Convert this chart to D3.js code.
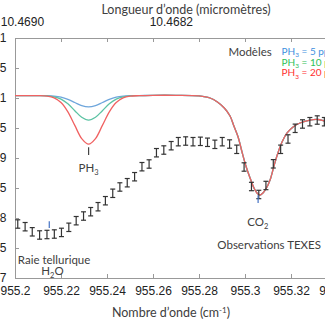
<!DOCTYPE html>
<html>
<head>
<meta charset="utf-8">
<script src="https://cdn.jsdelivr.net/npm/d3@7"></script>
<style>
  body { margin: 0; background: #fff; }
  svg { display: block; }
  .axis path, .axis line { stroke: #999; }
  .axis text { fill: #222; font-family: "Liberation Sans", Arial, sans-serif; font-size: 12px; }
  .lbl { fill: #404040; font-family: Lato, "Open Sans", sans-serif; }
</style>
</head>
<body>
<div class="chart"></div>
<script>
// Data
const wnTicks = [955.2, 955.22, 955.24, 955.26, 955.28, 955.3, 955.32, 955.34];
const yTicks = [0.7, 0.75, 0.8, 0.85, 0.9, 0.95, 1, 1.05, 1.1];
const lambdaTicks = [10.4690, 10.4682];

// TEXES observations
const obsWn = [955.2012, 955.2044, 955.2075, 955.2107, 955.2139, 955.2171, 955.2202, 955.2234,
  955.2266, 955.2298, 955.2329, 955.2361, 955.2393, 955.2425, 955.2456, 955.2488, 955.2520,
  955.2552, 955.2583, 955.2615, 955.2647, 955.2679, 955.2710, 955.2742, 955.2774, 955.2806,
  955.2837, 955.2869, 955.2901, 955.2933, 955.2964, 955.2996, 955.3028, 955.3060, 955.3091,
  955.3123, 955.3155, 955.3187, 955.3218, 955.3250, 955.3282, 955.3314, 955.3345];
const obsVal = [0.790, 0.7855, 0.777, 0.7717, 0.7725, 0.7733, 0.776, 0.7845,
  0.7955, 0.8033, 0.8105, 0.8188, 0.8288, 0.8412, 0.8517, 0.8588, 0.8688,
  0.8855, 0.890, 0.9088, 0.9133, 0.9205, 0.9272, 0.9283, 0.9272, 0.9278,
  0.9262, 0.9228, 0.9272, 0.9233, 0.9145, 0.885, 0.8525, 0.8392, 0.8542,
  0.8903, 0.9145, 0.9317, 0.9495, 0.9567, 0.9605, 0.9633, 0.9605];
const obsErr = 0.007;

// Models
const modelWn = [955.200, 955.210, 955.214, 955.217, 955.220, 955.223, 955.226, 955.229, 955.232,
  955.235, 955.238, 955.241, 955.244, 955.247, 955.250, 955.254, 955.260, 955.270, 955.280,
  955.2848, 955.288, 955.291, 955.2935, 955.295, 955.297, 955.2987, 955.3004, 955.3022,
  955.3039, 955.3052, 955.3065, 955.3078, 955.3091, 955.3109, 955.3126, 955.3143, 955.3161,
  955.3183, 955.3209, 955.3239, 955.3283, 955.3317, 955.3348, 955.340];
const coTail = [1.0045, 1.0045, 1.0035,
  1.000, 0.9933, 0.9833, 0.970, 0.955, 0.935, 0.910, 0.8867, 0.8667,
  0.850, 0.8417, 0.8383, 0.8417, 0.8483, 0.8633, 0.8867, 0.9083, 0.9267,
  0.9417, 0.9517, 0.9583, 0.9633, 0.9642, 0.9617, 0.958];
const ph3_5 = [1.004, 1.004, 1.0038, 1.0031, 1.0013, 0.9977, 0.9925, 0.9874, 0.9853,
  0.9874, 0.9925, 0.9977, 1.0013, 1.0031, 1.0038, 1.004].concat(coTail);
const ph3_10 = [1.004, 1.0039, 1.0035, 1.002, 0.9981, 0.9903, 0.9789, 0.9679, 0.9632,
  0.9679, 0.9789, 0.9903, 0.9981, 1.002, 1.0035, 1.0039].concat(coTail);
const ph3_20 = [1.004, 1.0039, 1.003, 1.0001, 0.9924, 0.9769, 0.9543, 0.9324, 0.9232,
  0.9324, 0.9543, 0.9769, 0.9924, 1.0001, 1.003, 1.0039].concat(coTail);

const modelNames = ['5', '10', '20'];
const modelLineColors = ['#6ea6dc', '#5cc3a4', '#f06262'];
const modelTextColors = ['#3d8fe0', '#2fbf58', '#ff3030'];

function ready(){
    const margin = {top: 38, right: -12, bottom: 47, left: 15};
    const width = 325 - margin.left - margin.right;
    const height = 325 - margin.top - margin.bottom;

    const xScale = d3.scaleLinear().domain([955.2, 955.34]).range([0, width]);
    const yScale = d3.scaleLinear().domain([0.7, 1.1]).range([height, 0]);
    // wavelength axis on top, as placed on the original figure
    const lScale = d3.scaleLinear().domain([10.46904, 10.46731]).range([0, width]);

    const svg = d3.select('.chart')
        .append('svg')
        .attr('width', 325)
        .attr('height', 325)
        .append('g')
        .attr('transform', `translate(${margin.left}, ${margin.top})`);

    //Axes
    svg.append('g')
        .attr('class', 'axis')
        .attr('transform', `translate(0, ${height})`)
        .call(d3.axisBottom(xScale).tickValues(wnTicks).tickSizeInner(-4).tickSizeOuter(0)
            .tickPadding(8).tickFormat(d3.format('.2~f')));

    svg.append('g')
        .attr('class', 'axis')
        .call(d3.axisTop(xScale).tickValues(wnTicks).tickSizeInner(-4).tickSizeOuter(0)
            .tickFormat(''));

    svg.append('g')
        .attr('class', 'axis')
        .call(d3.axisLeft(yScale).tickValues(yTicks).tickSizeInner(-4).tickSizeOuter(0)
            .tickPadding(8.5).tickFormat(d => +d.toFixed(2)));

    // wavelength tick labels
    svg.selectAll('.ltick')
        .data(lambdaTicks)
        .enter()
        .append('text')
        .attr('class', 'ltick')
        .attr('x', d => lScale(d))
        .attr('y', -12)
        .attr('text-anchor', 'middle')
        .style('font-family', '"Liberation Sans", Arial, sans-serif')
        .style('font-size', '12px')
        .style('fill', '#222')
        .text(d3.format('.4f'));

    //Titles
    svg.append('text')
        .attr('class', 'lbl')
        .attr('x', 186 - margin.left)
        .attr('y', 13.5 - margin.top)
        .attr('text-anchor', 'middle')
        .style('font-size', '12.5px')
        .text('Longueur d\u2019onde (micromètres)');

    const xTitle = svg.append('text')
        .attr('class', 'lbl')
        .attr('x', 171 - margin.left)
        .attr('y', height + 39)
        .attr('text-anchor', 'middle')
        .style('font-size', '12.5px');
    xTitle.append('tspan').text('Nombre d\u2019onde (cm');
    xTitle.append('tspan').text('-1').attr('dy', -4).style('font-size', '8px');
    xTitle.append('tspan').text(')').attr('dy', 4);

    //Model lines
    const modelSeries = [ph3_5, ph3_10, ph3_20];
    const line = d3.line()
        .x(d => xScale(d[0]))
        .y(d => yScale(d[1]))
        .curve(d3.curveCatmullRom.alpha(0.5));

    svg.selectAll('.model')
        .data(modelSeries)
        .enter()
        .append('path')
        .attr('class', 'model')
        .attr('d', s => line(s.map((v, i) => [modelWn[i], v])))
        .attr('fill', 'none')
        .attr('stroke', (s, i) => modelLineColors[i])
        .attr('stroke-width', 1.3);

    //Observations, error bars
    const obs = obsWn.map((w, i) => ({wn: w, val: obsVal[i]}));
    const eb = svg.selectAll('.eb')
        .data(obs)
        .enter()
        .append('g')
        .attr('class', 'eb')
        .attr('stroke', '#333')
        .attr('stroke-width', 1.2);
    eb.append('line')
        .attr('x1', d => xScale(d.wn)).attr('x2', d => xScale(d.wn))
        .attr('y1', d => yScale(d.val + obsErr)).attr('y2', d => yScale(d.val - obsErr));
    eb.append('line')
        .attr('x1', d => xScale(d.wn) - 2.5).attr('x2', d => xScale(d.wn) + 2.5)
        .attr('y1', d => yScale(d.val + obsErr)).attr('y2', d => yScale(d.val + obsErr));
    eb.append('line')
        .attr('x1', d => xScale(d.wn) - 2.5).attr('x2', d => xScale(d.wn) + 2.5)
        .attr('y1', d => yScale(d.val - obsErr)).attr('y2', d => yScale(d.val - obsErr));

    //Annotations
    function marker(wn, v1, v2, color){
        svg.append('line')
            .attr('x1', xScale(wn)).attr('x2', xScale(wn))
            .attr('y1', yScale(v1)).attr('y2', yScale(v2))
            .attr('stroke', color).attr('stroke-width', 1.2);
    }
    function label(wn, v, parts, size){
        const t = svg.append('text')
            .attr('class', 'lbl')
            .attr('x', xScale(wn)).attr('y', yScale(v))
            .attr('text-anchor', 'middle')
            .style('font-size', size + 'px');
        let shifted = false;
        parts.forEach(p => {
            const s = t.append('tspan').text(p[0]);
            if (p[1]) { s.attr('dy', 3).style('font-size', (size * 0.65) + 'px'); shifted = true; }
            else if (shifted) { s.attr('dy', -3); shifted = false; }
        });
        return t;
    }
    marker(955.232, 0.918, 0.905, '#444');
    label(955.232, 0.877, [['PH'], ['3', true]], 11.5);

    marker(955.3057, 0.838, 0.825, '#4472c4');
    label(955.3056, 0.787, [['CO'], ['2', true]], 11.5);

    marker(955.2149, 0.7944, 0.7833, '#4472c4');
    label(955.2170, 0.7235, [['Raie tellurique']], 11.5);
    label(955.2163, 0.7042, [['H'], ['2', true], ['O']], 11.5);

    label(955.3105, 0.748, [['Observations TEXES']], 11.5);

    //Legend
    svg.append('text')
        .attr('class', 'lbl')
        .attr('x', xScale(955.3022))
        .attr('y', yScale(1.0692))
        .attr('text-anchor', 'middle')
        .style('font-size', '11.5px')
        .text('Modèles');

    const leg = svg.selectAll('.leg')
        .data(modelNames)
        .enter()
        .append('text')
        .attr('class', 'leg')
        .attr('x', xScale(955.3159))
        .attr('y', (d, i) => yScale(1.072 - i * 0.018))
        .style('font-family', 'Lato, "Open Sans", sans-serif')
        .style('font-size', '10px')
        .style('fill', (d, i) => modelTextColors[i]);
    leg.append('tspan').text('PH');
    leg.append('tspan').text('3').attr('dy', 2.5).style('font-size', '6.5px');
    leg.append('tspan').text(d => ` = ${d} ppb`).attr('dy', -2.5);
}

ready();
</script>
</body>
</html>
